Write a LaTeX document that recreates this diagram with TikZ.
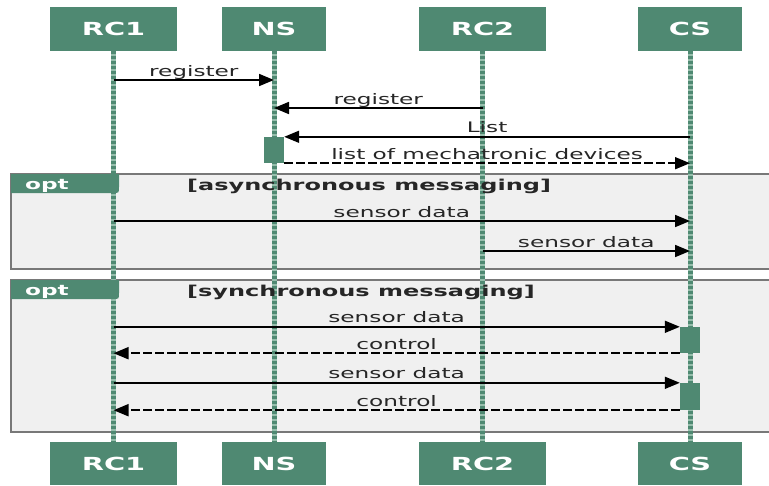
\documentclass[tikz,border=0pt]{standalone}
\usepackage{fontspec}
\setmainfont{DejaVu Sans}
\usetikzlibrary{arrows.meta}
\pgfdeclarelayer{background}
\pgfsetlayers{background,main}
\definecolor{umlgreen}{RGB}{79,137,114}
\definecolor{lifelight}{RGB}{150,190,172}
\definecolor{framefill}{RGB}{240,240,240}
\definecolor{framegray}{RGB}{120,120,120}
\newcommand{\hs}[1]{\scalebox{1.6}[1]{#1}}
\begin{document}
\begin{tikzpicture}[x=1pt,y=-1pt,
  partbox/.style={fill=umlgreen, draw=none, inner sep=0pt, minimum width=#1,
    text=white, font=\fontsize{18}{20}\selectfont\bfseries},
  lifeline/.style={draw=lifelight, line width=5pt,
    postaction={draw=umlgreen, line width=5pt, dash pattern=on 3pt off 2pt}},
  actbar/.style={fill=umlgreen, draw=none, inner sep=0pt, minimum width=20pt},
  msg/.style={draw=black, line width=1.7pt, -{Triangle[length=15pt,width=12pt]}},
  reply/.style={msg, dash pattern=on 8.5pt off 3.5pt},
  lbl/.style={midway, anchor=base, yshift=4pt, inner sep=0pt, text=black!85,
    font=\fontsize{14.5}{16}\selectfont},
  frame/.style={fill=framefill, draw=framegray, line width=2pt},
  tab/.style={fill=umlgreen, draw=none},
  opttxt/.style={anchor=base west, inner sep=0pt, text=white,
    font=\fontsize{14.5}{16}\selectfont\bfseries},
  ftitle/.style={anchor=base west, inner sep=0pt, text=black!85,
    font=\fontsize{15}{17}\selectfont\bfseries}]
\useasboundingbox (0,0) rectangle (769,485);

% participants
\node[partbox=127pt, minimum height=44pt] (rc1t) at (113.5,29) {\hs{RC1}};
\node[partbox=104pt, minimum height=44pt] (nst)  at (274,29)   {\hs{NS}};
\node[partbox=127pt, minimum height=44pt] (rc2t) at (482.5,29) {\hs{RC2}};
\node[partbox=104pt, minimum height=44pt] (cst)  at (690,29)   {\hs{CS}};
\node[partbox=127pt, minimum height=43pt] (rc1b) at (113.5,463.5) {\hs{RC1}};
\node[partbox=104pt, minimum height=43pt] (nsb)  at (274,463.5)   {\hs{NS}};
\node[partbox=127pt, minimum height=43pt] (rc2b) at (482.5,463.5) {\hs{RC2}};
\node[partbox=104pt, minimum height=43pt] (csb)  at (690,463.5)   {\hs{CS}};

% background and frames
\begin{pgfonlayer}{background}
\fill[white] (0,0) rectangle (769,485);
\draw[frame] (11,174) rectangle (772,269);
\draw[frame] (11,280) rectangle (772,432);
\end{pgfonlayer}

% lifelines
\draw[lifeline] (rc1t.south) -- (rc1b.north);
\draw[lifeline] (nst.south) -- (nsb.north);
\draw[lifeline] (rc2t.south) -- (rc2b.north);
\draw[lifeline] (cst.south) -- (csb.north);

% frame tabs and titles
\fill[tab] (11,174) -- (119,174) -- (119,187) .. controls (119,193) .. (113,193) -- (11,193) -- cycle;
\node[opttxt] (opt1) at (25,189) {\hs{opt}};
\node[ftitle] (title1) at (187,190) {\hs{[asynchronous messaging]}};
\fill[tab] (11,280) -- (119,280) -- (119,293) .. controls (119,299) .. (113,299) -- (11,299) -- cycle;
\node[opttxt] (opt2) at (25,295) {\hs{opt}};
\node[ftitle] (title2) at (187,296) {\hs{[synchronous messaging]}};

% activation bars
\node[actbar, minimum height=26pt] (nsact) at (274,150) {};
\node[actbar, minimum height=26pt] (csact1) at (690,340) {};
\node[actbar, minimum height=27pt] (csact2) at (690,396.5) {};

% messages
\draw[msg] (rc1t.south |- 0,80) -- node[lbl]{\hs{register}} (nst.south |- 0,80);
\draw[msg] (rc2t.south |- 0,108) -- node[lbl]{\hs{register}} (nst.south |- 0,108);
\draw[msg] (cst.south |- nsact.north) -- node[lbl]{\hs{List}} (nsact.north east);
\draw[reply] (nsact.south east) -- node[lbl]{\hs{list of mechatronic devices}} (cst.south |- nsact.south);

\draw[msg] (rc1t.south |- 0,221) -- node[lbl]{\hs{sensor data}} (cst.south |- 0,221);
\draw[msg] (rc2t.south |- 0,251) -- node[lbl]{\hs{sensor data}} (cst.south |- 0,251);

\draw[msg] (rc1t.south |- csact1.north) -- node[lbl]{\hs{sensor data}} (csact1.north west);
\draw[reply] (csact1.south west) -- node[lbl]{\hs{control}} (rc1t.south |- csact1.south);
\draw[msg] (rc1t.south |- csact2.north) -- node[lbl]{\hs{sensor data}} (csact2.north west);
\draw[reply] (csact2.south west) -- node[lbl]{\hs{control}} (rc1t.south |- csact2.south);
\end{tikzpicture}
\end{document}
